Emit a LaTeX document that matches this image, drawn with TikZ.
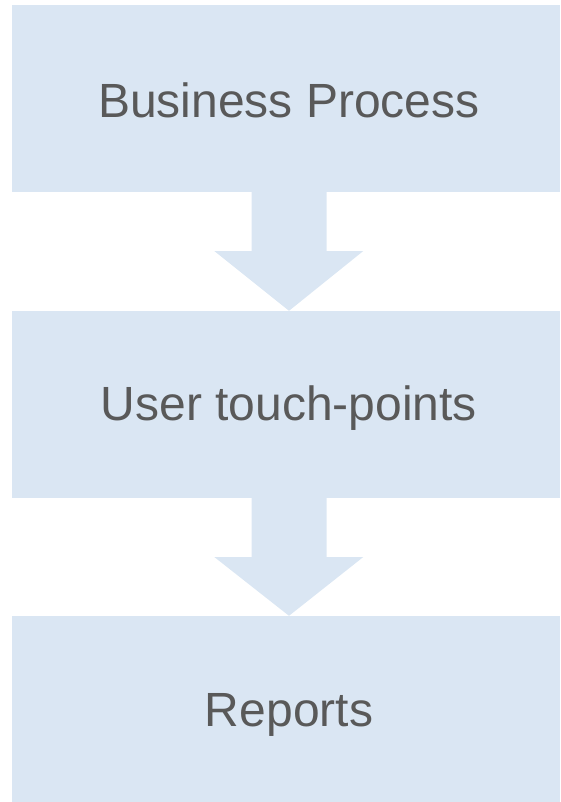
\documentclass[tikz,border=0pt]{standalone}
\usepackage{fontspec}
\setmainfont{Liberation Sans}
\definecolor{boxfill}{HTML}{DAE6F3}
\definecolor{txt}{HTML}{595959}
\begin{document}
\begin{tikzpicture}[x=1pt,y=-1pt,
  stagebox/.style={fill=boxfill,draw=none,minimum width=548pt,minimum height=187pt,inner sep=0pt},
  stagetext/.style={text=txt,inner sep=0pt,font=\fontsize{48}{56}\selectfont},
  flowarrow/.style={fill=boxfill,draw=none}]
\useasboundingbox (0,0) rectangle (560,802);
\node[stagebox] (b1) at (286,98.5) {};
\node[stagebox] (b2) at (286,404.5) {};
\node[stagebox] (b3) at (286,709.5) {};
\node[stagetext] (t1) at ([shift={(3,2)}]b1.center) {Business Process};
\node[stagetext] (t2) at ([shift={(3,4)}]b2.center) {User touch-points};
\node[stagetext] (t3) at ([shift={(3,5)}]b3.center) {Reports};
\fill[flowarrow] (b1.south -| 251.7,0) -- (251.7,251) -- (214.3,251) -- (b2.north -| 289,0)
  -- (363.3,251) -- (326.7,251) -- (b1.south -| 326.7,0) -- cycle;
\fill[flowarrow] (b2.south -| 251.7,0) -- (251.7,557) -- (214.3,557) -- (b3.north -| 289,0)
  -- (363.3,557) -- (326.7,557) -- (b2.south -| 326.7,0) -- cycle;
\end{tikzpicture}
\end{document}
